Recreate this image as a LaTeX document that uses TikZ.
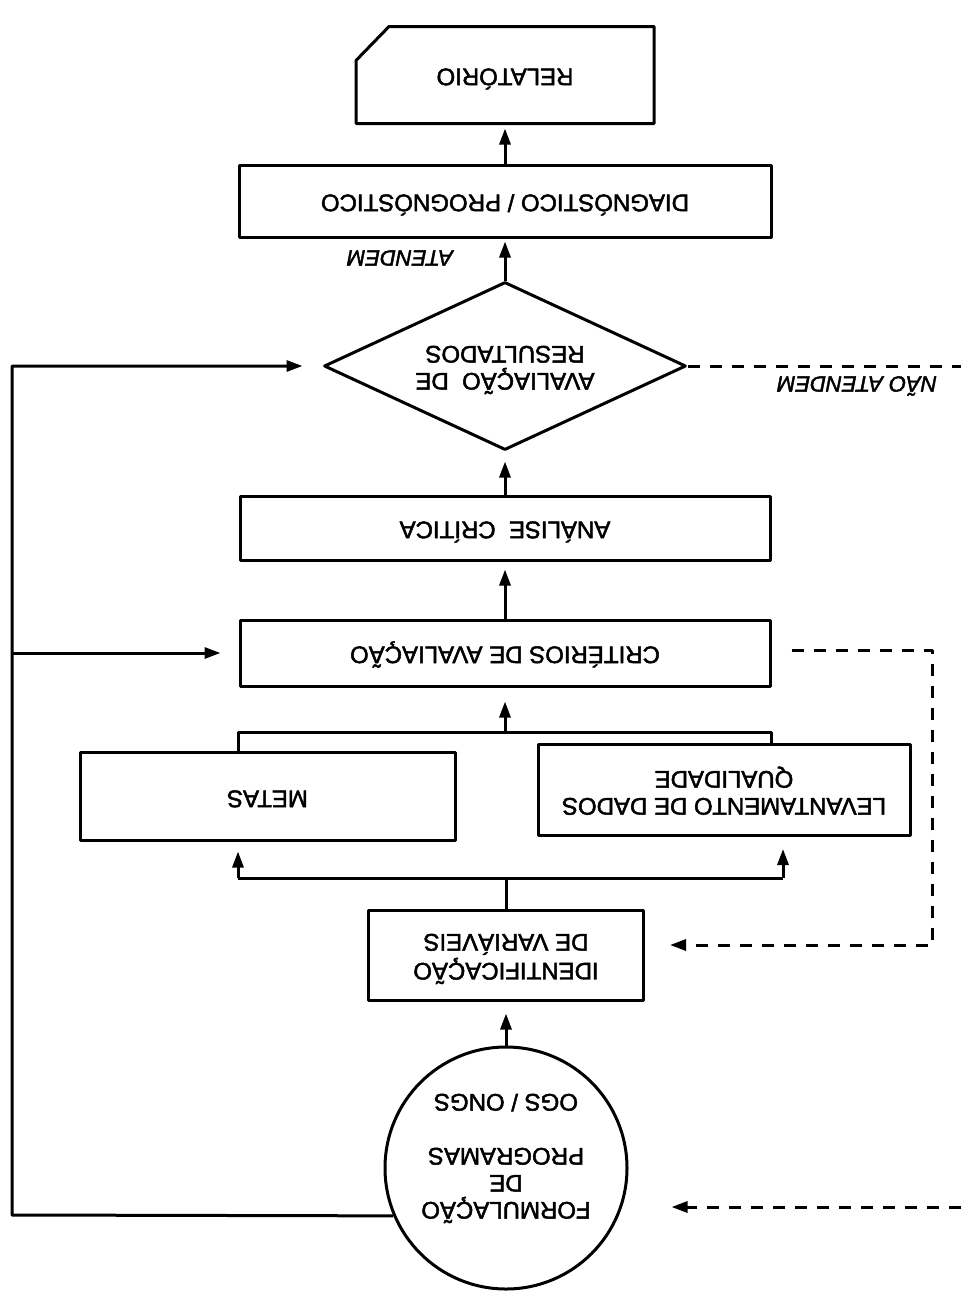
\documentclass[tikz,border=0pt]{standalone}
\usepackage{fontspec}
\setmainfont{Liberation Sans}[FakeBold=2]
\usepackage{graphicx}
\usetikzlibrary{shapes.geometric,arrows.meta}
\newcommand{\inv}[1]{\rotatebox[origin=c]{180}{\begin{tabular}{@{}c@{}}#1\end{tabular}}}
\begin{document}
\begin{tikzpicture}[x=1pt, y=-1pt, line width=3pt, line join=round, >={Triangle[length=16pt,width=11pt]},
	font=\fontsize{24}{27}\selectfont,
	caixa/.style={draw, rectangle, inner sep=0pt},
	rotulo/.style={font=\fontsize{22}{26}\selectfont\itshape},
	tracejado/.style={dash pattern=on 12pt off 10pt}]
	\useasboundingbox (0,0) rectangle (961,1293);
	% caixas
	\node[inner sep=0pt, minimum width=295pt, minimum height=94pt] (rel) at (505,75) {\inv{RELATÓRIO}};
	\draw (rel.south west) -- (rel.south east) -- (rel.north east) -- ([xshift=33pt]rel.north west) -- ([yshift=-34pt]rel.north west) -- cycle;
	\node[caixa, minimum width=532pt, minimum height=72pt] (diag) at (505,201) {\inv{DIAGNÓSTICO / PROGNÓSTICO}};
	\node[draw, diamond, aspect=2.15, inner sep=0pt, minimum width=362pt, minimum height=168pt] (aval) at (505,366) {\inv{AVALIAÇÃO\ \ DE\\RESULTADOS}};
	\node[caixa, minimum width=530pt, minimum height=64pt] (analise) at (505,528) {\inv{ANÁLISE\ \ CRÍTICA}};
	\node[caixa, minimum width=530pt, minimum height=66pt] (crit) at (505,653) {\inv{CRITÉRIOS DE AVALIAÇÃO}};
	\node[caixa, minimum width=375pt, minimum height=88pt] (metas) at (267.5,796) {\inv{METAS}};
	\node[caixa, minimum width=372pt, minimum height=91pt] (lev) at (724,790) {\inv{LEVANTAMENTO DE DADOS\\QUALIDADE}};
	\node[caixa, minimum width=275pt, minimum height=90pt] (ident) at (506,955) {\inv{IDENTIFICAÇÃO\\DE VARIÁVEIS}};
	\node[draw, circle, inner sep=0pt, minimum size=242pt] (formul) at (506,1168) {\inv{\\FORMULAÇÃO\\DE\\PROGRAMAS\\[27pt]OGS / ONGS}};
	% rotulos
	\node[rotulo] (atd) at (400,258) {\rotatebox{180}{ATENDEM}};
	\node[rotulo] (natd) at (857,386) {\rotatebox{180}{NÃO ATENDEM}};
	% fluxo principal
	\draw[->, shorten >=12pt] (formul.north) -- (ident.south);
	\coordinate (sepE) at (238,878);
	\coordinate (sepD) at (783,878);
	\draw (ident.north) -- (ident.north |- sepE);
	\draw (sepE) -- (sepD);
	\draw[->, shorten >=10pt] (sepE) -- (sepE |- metas.south);
	\draw[->, shorten >=12pt] (sepD) -- (sepD |- lev.south);
	\coordinate (jun) at (505,732);
	\draw (metas.north -| crit.west) |- (jun) -| (lev.north -| crit.east);
	\draw[->, shorten >=14pt] (jun) -- (jun |- crit.south);
	\draw[->, shorten >=8pt] (crit.north) -- (analise.south);
	\draw[->, shorten >=10pt] (analise.north) -- (aval.south);
	\draw[->, shorten >=3pt] (aval.north) -- (diag.south);
	\draw[->, shorten >=5pt] (diag.north) -- (rel.south);
	% retornos
	\coordinate (esq) at (12,1215);
	\draw[->, shorten >=20pt] (formul.203) -- (esq) |- (aval.west);
	\draw[->, shorten >=18pt] (esq |- crit.west) -- (crit.west);
	\coordinate (naoat) at (961,366);
	\draw[tracejado] (aval.east) -- (naoat);
	\coordinate (dir) at (932,650);
	\draw[tracejado, ->, shorten <=20pt, shorten >=25pt] (crit.east |- dir) -- (dir) |- ([yshift=10pt]ident.east);
	\coordinate (ent) at (961,1207);
	\draw[tracejado, ->, shorten >=43pt] (ent) -- (ent -| formul.east);
\end{tikzpicture}
\end{document}
